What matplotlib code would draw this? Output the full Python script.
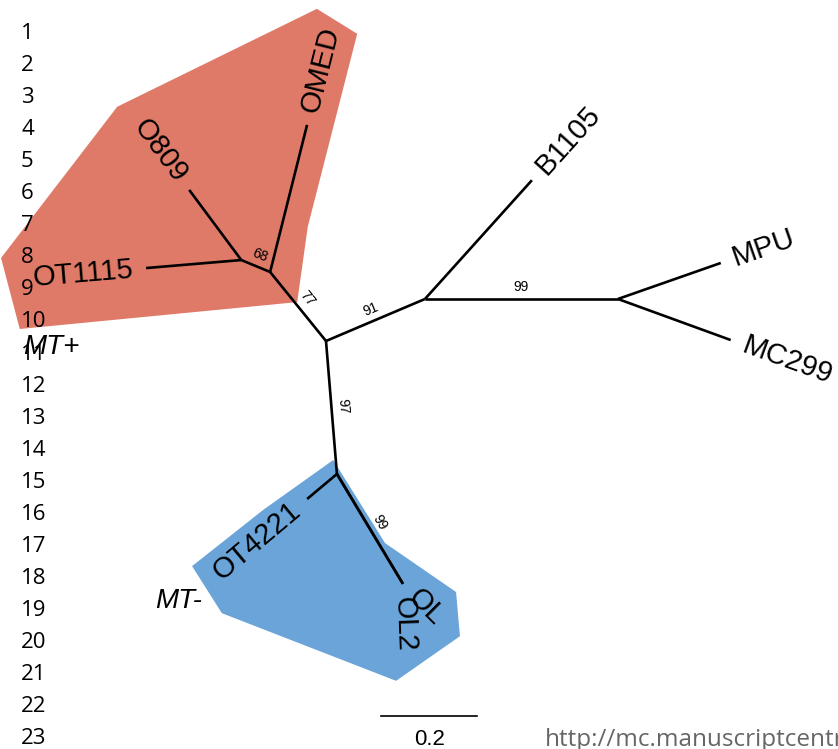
import numpy as np
import matplotlib.pyplot as plt

# Unrooted ML tree, branch lengths in substitutions/site, angles of the layout in degrees
parents = ["C", "P", "P", "Q", "Q", "C", "A", "A", "M", "M", "C", "R", "R", "R"]
children = ["P", "Q", "OMED", "O809", "OT1115", "A", "B1105", "M", "MPU", "MC299",
            "R", "OT4221", "OL", "OL2"]
lengths = [0.185, 0.065, 0.316, 0.182, 0.199, 0.224, 0.333, 0.402, 0.227, 0.250,
           0.278, 0.081, 0.267, 0.267]
angles = [129, 157.5, 75.9, 126.6, 184.8, 23, 48, 0, 19.3, -20, -85.3, -140, -59, -59]

# bootstrap support, written on the branch leading to the node
boot_nodes = ["P", "Q", "A", "M", "R", "OL"]
boot_values = ["77", "68", "91", "99", "97", "99"]

# tip labels whose rotation differs from the branch angle
label_rot = {"OL": -45, "OL2": -88}

# mating type groups (hull outlines, tree units)
mtp_x = [-0.019, 0.065, -0.038, -0.060, -0.638, -0.677, -0.435]
mtp_y = [0.692, 0.640, 0.238, 0.081, 0.025, 0.173, 0.488]
mtm_x = [0.015, 0.123, 0.271, 0.279, 0.146, -0.217, -0.279, -0.131]
mtm_y = [-0.248, -0.421, -0.523, -0.615, -0.708, -0.567, -0.469, -0.352]

scale_len = 0.2
line_numbers = list(range(1, 24))
url = "http://mc.manuscriptcentral.com/"

W, H = 838, 749
PX = 480.0  # pixels per unit of branch length

fig = plt.figure(figsize=(W / 100, H / 100), dpi=100)
ax = fig.add_axes([0, 0, 1, 1])
root_px = (326, 341)
ax.set_xlim(-root_px[0] / PX, (W - root_px[0]) / PX)
ax.set_ylim(-(H - root_px[1]) / PX, root_px[1] / PX)
ax.axis("off")

# node coordinates
pos = {"C": (0.0, 0.0)}
for p, c, l, a in zip(parents, children, lengths, angles):
    x0, y0 = pos[p]
    t = np.radians(a)
    pos[c] = (x0 + l * np.cos(t), y0 + l * np.sin(t))

ax.fill(mtp_x, mtp_y, color="#df7a68", lw=0, zorder=1)
ax.fill(mtm_x, mtm_y, color="#6aa4d8", lw=0, zorder=1)

for p, c in zip(parents, children):
    ax.plot([pos[p][0], pos[c][0]], [pos[p][1], pos[c][1]], color="black",
            lw=1.9, solid_capstyle="butt", zorder=2)

def norm_angle(a):
    a = (a + 180) % 360 - 180
    if a > 90:
        return a - 180, True
    if a <= -90:
        return a + 180, True
    return a, False

tips = [c for c in children if c not in parents]
gap = 13 / PX
for tip in tips:
    i = children.index(tip)
    a = label_rot.get(tip, angles[i])
    rot, flipped = norm_angle(a)
    t = np.radians(a)
    x = pos[tip][0] + gap * np.cos(t)
    y = pos[tip][1] + gap * np.sin(t)
    ax.text(x, y, tip, rotation=rot, rotation_mode="anchor",
            ha="right" if flipped else "left", va="center",
            fontsize=21, family="Liberation Sans", zorder=3)

off = 12 / PX
for node, val in zip(boot_nodes, boot_values):
    i = children.index(node)
    p = parents[i]
    mx = (pos[p][0] + pos[node][0]) / 2
    my = (pos[p][1] + pos[node][1]) / 2
    rot, _ = norm_angle(angles[i])
    n = np.radians(rot + 90)
    ax.text(mx + off * np.cos(n), my + off * np.sin(n), val, rotation=rot,
            rotation_mode="anchor", ha="center", va="center", fontsize=10,
            family="Liberation Sans", zorder=3)

# group labels
ax.text(-0.630, -0.013, "MT+", fontsize=20, style="italic", family="Liberation Sans",
        ha="left", va="center", zorder=3)
ax.text(-0.356, -0.542, "MT-", fontsize=20, style="italic", family="Liberation Sans",
        ha="left", va="center", zorder=3)

# scale bar
sx0 = 0.115
sy = -0.781
ax.plot([sx0, sx0 + scale_len], [sy, sy], color="black", lw=1.2)
ax.text(sx0 + scale_len / 2, sy - 0.050, f"{scale_len:g}", ha="center", va="center",
        fontsize=16, family="Liberation Sans")

# manuscript line numbers and footer
for k, n in enumerate(line_numbers):
    fig.text(21 / W, 1 - (33.5 + 32.05 * k) / H, str(n), ha="left", va="center",
             fontsize=16, family="Open Sans", color="black")
fig.text(545 / W, 1 - 740 / H, url, ha="left", va="center", fontsize=17.5,
         family="Open Sans", color="#666666")

fig.savefig("out.png", dpi=100)
